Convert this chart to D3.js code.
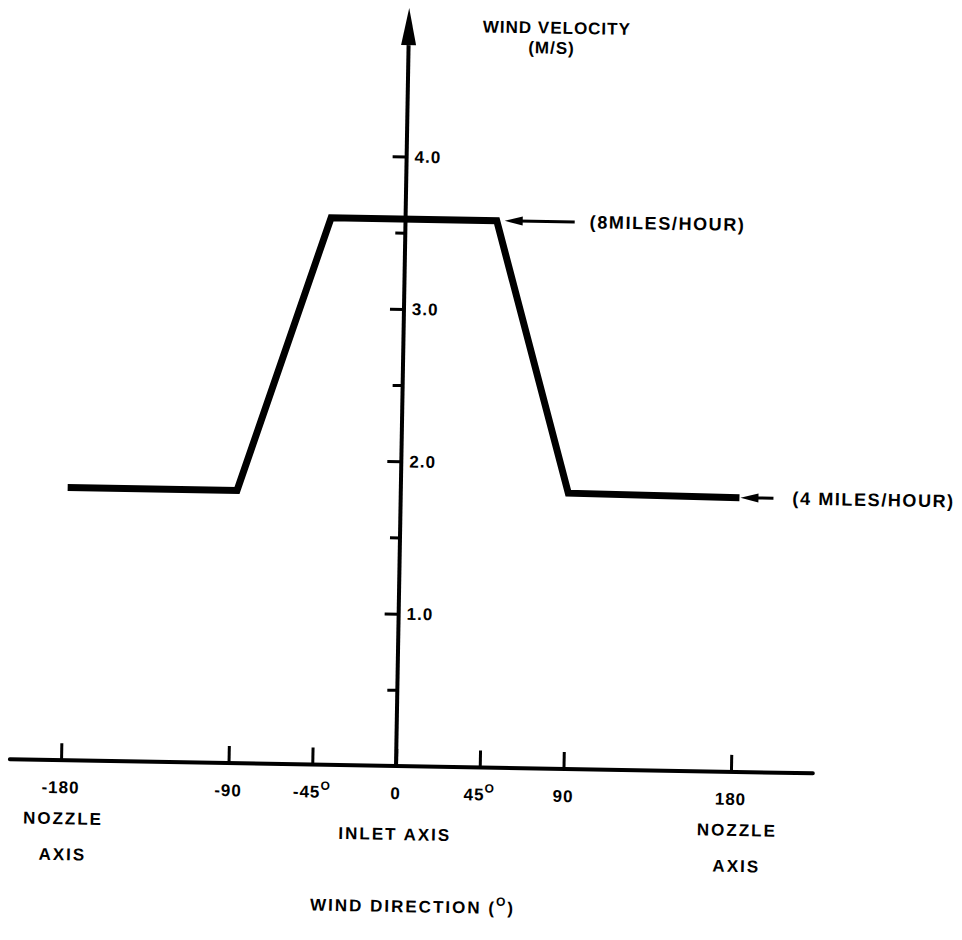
<!DOCTYPE html>
<html>
<head>
<meta charset="utf-8">
<script src="https://cdn.jsdelivr.net/npm/d3@7"></script>
<style>
  body { margin: 0; background: #fff; }
  text { font-family: "Liberation Sans", Arial, sans-serif; font-weight: bold; fill: #000; font-size: 17px; letter-spacing: 1px; }
  .callout { font-size: 18px; letter-spacing: 1.6px; }
  .xtitle { letter-spacing: 2px; }
</style>
</head>
<body>
<div id="chart"></div>
<script>
// wind velocity (m/s) against wind direction (deg)
const direction = [-179, -88, -40, 49, 90, 182];
const velocity = [1.79, 1.79, 3.59, 3.59, 1.81, 1.80];

const xTickValues = [-180, -90, -45, 0, 45, 90, 180];
const xTickLabels = ["-180", "-90", "-45", "0", "45", "90", "180"];
const xTickDegree = [false, false, true, false, true, false, false];

const yMajorTicks = [1, 2, 3, 4];
const yMinorTicks = [0.5, 1.5, 2.5, 3.5];
const yTickLabels = ["1.0", "2.0", "3.0", "4.0"];

// names written under the direction axis
const axisNameAt = [-180, 0, 180];
const axisNameLines = [["NOZZLE", "AXIS"], ["INLET AXIS"], ["NOZZLE", "AXIS"]];

// the two speed call-outs and which point of the line they point at
const speedLabels = ["(8MILES/HOUR)", "(4 MILES/HOUR)"];
const speedPoint = [3, 5];

const width = 962;
const height = 940;

const svg = d3.select("#chart")
    .append("svg")
    .attr("width", width)
    .attr("height", height);

// the scan is tilted a little, so the whole drawing is turned about the origin
const g = svg.append("g")
    .attr("transform", "rotate(1,396,766)");

const xScale = d3.scaleLinear()
    .domain([-180, 180])
    .range([61, 731]);

const yScale = d3.scaleLinear()
    .domain([0, 4])
    .range([766, 156.5]);

const x0 = xScale(0);
const y0 = yScale(0);

// x axis line (runs past the +-180 ticks)
g.append("line")
    .attr("x1", xScale(-207.5))
    .attr("x2", xScale(224))
    .attr("y1", y0)
    .attr("y2", y0)
    .attr("stroke", "#000")
    .attr("stroke-width", 4)
    .attr("stroke-linecap", "round");

const xAxis = g.append("g")
    .attr("transform", "translate(0," + y0 + ")")
    .call(d3.axisBottom(xScale)
        .tickValues(xTickValues)
        .tickSizeInner(-17)
        .tickSizeOuter(0)
        .tickFormat(""));
xAxis.select(".domain").remove();
xAxis.selectAll(".tick line").attr("stroke-width", 3);

// x tick labels, some with a raised degree sign
const xLab = g.selectAll(".xlab")
    .data(xTickValues)
    .enter().append("text")
    .attr("class", "xlab")
    .attr("x", d => xScale(d))
    .attr("y", y0 + 33)
    .attr("text-anchor", "middle");
xLab.append("tspan").text((d, i) => xTickLabels[i]);
xLab.filter((d, i) => xTickDegree[i])
    .append("tspan")
    .attr("dy", -8)
    .style("font-size", "12px")
    .text("O");

// NOZZLE AXIS / INLET AXIS
axisNameAt.forEach(function (at, i) {
    const lines = axisNameLines[i];
    const shift = at < 0 ? 3 : at > 0 ? 7 : 0;
    lines.forEach(function (s, j) {
        g.append("text")
            .attr("x", xScale(at) + shift)
            .attr("y", lines.length === 1 ? y0 + 74 : y0 + 64 + j * 36)
            .attr("text-anchor", "middle")
            .style("letter-spacing", "2px")
            .text(s);
    });
});

const xTitle = g.append("text")
    .attr("class", "xtitle")
    .attr("x", x0 + 19)
    .attr("y", y0 + 146)
    .attr("text-anchor", "middle");
xTitle.append("tspan").text("WIND DIRECTION (");
xTitle.append("tspan").attr("dy", -8).style("font-size", "12px").text("O");
xTitle.append("tspan").attr("dy", 8).text(")");

// y axis with arrow head
const arrowBase = 45;
const arrowTip = 8;
g.append("line")
    .attr("x1", x0)
    .attr("x2", x0)
    .attr("y1", y0)
    .attr("y2", arrowBase)
    .attr("stroke", "#000")
    .attr("stroke-width", 4);
g.append("path")
    .attr("d", "M" + x0 + "," + arrowTip + "L" + (x0 + 7.5) + "," + arrowBase + "L" + (x0 - 7.5) + "," + arrowBase + "Z")
    .attr("fill", "#000");

const yMajor = g.append("g")
    .attr("transform", "translate(" + x0 + ",0)")
    .call(d3.axisRight(yScale)
        .tickValues(yMajorTicks)
        .tickSizeInner(-14)
        .tickSizeOuter(0)
        .tickPadding(8)
        .tickFormat((d, i) => yTickLabels[i]));
yMajor.select(".domain").remove();
yMajor.selectAll(".tick line").attr("stroke-width", 3);
yMajor.attr("font-size", null).attr("font-family", null);

const yMinor = g.append("g")
    .attr("transform", "translate(" + x0 + ",0)")
    .call(d3.axisRight(yScale)
        .tickValues(yMinorTicks)
        .tickSizeInner(-10)
        .tickSizeOuter(0)
        .tickFormat(""));
yMinor.select(".domain").remove();
yMinor.selectAll(".tick line").attr("stroke-width", 3);

g.append("text")
    .attr("x", x0 + 148)
    .attr("y", 31)
    .attr("text-anchor", "middle")
    .text("WIND VELOCITY");
g.append("text")
    .attr("x", x0 + 143)
    .attr("y", 51)
    .attr("text-anchor", "middle")
    .text("(M/S)");

// the velocity profile
const points = direction.map((d, i) => [d, velocity[i]]);
const windLine = d3.line()
    .x(d => xScale(d[0]))
    .y(d => yScale(d[1]));

g.append("path")
    .datum(points)
    .attr("d", windLine)
    .attr("fill", "none")
    .attr("stroke", "#000")
    .attr("stroke-width", 7)
    .attr("stroke-linejoin", "miter");

// speed call-outs: arrow pointing left at the line, label to the right
const tipGap = [8, 1];
const tailLen = [70, 33];
const textGap = [85, 52];
speedLabels.forEach(function (label, k) {
    const p = points[speedPoint[k]];
    const tip = xScale(p[0]) + tipGap[k];
    const py = yScale(p[1]);
    g.append("line")
        .attr("x1", tip + 14)
        .attr("x2", tip + tailLen[k])
        .attr("y1", py)
        .attr("y2", py)
        .attr("stroke", "#000")
        .attr("stroke-width", 3);
    g.append("path")
        .attr("d", "M" + tip + "," + py + "L" + (tip + 18) + "," + (py - 4.5) + "L" + (tip + 18) + "," + (py + 4.5) + "Z")
        .attr("fill", "#000");
    g.append("text")
        .attr("class", "callout")
        .attr("x", tip + textGap[k])
        .attr("y", py + 6)
        .text(label);
});
</script>
</body>
</html>
